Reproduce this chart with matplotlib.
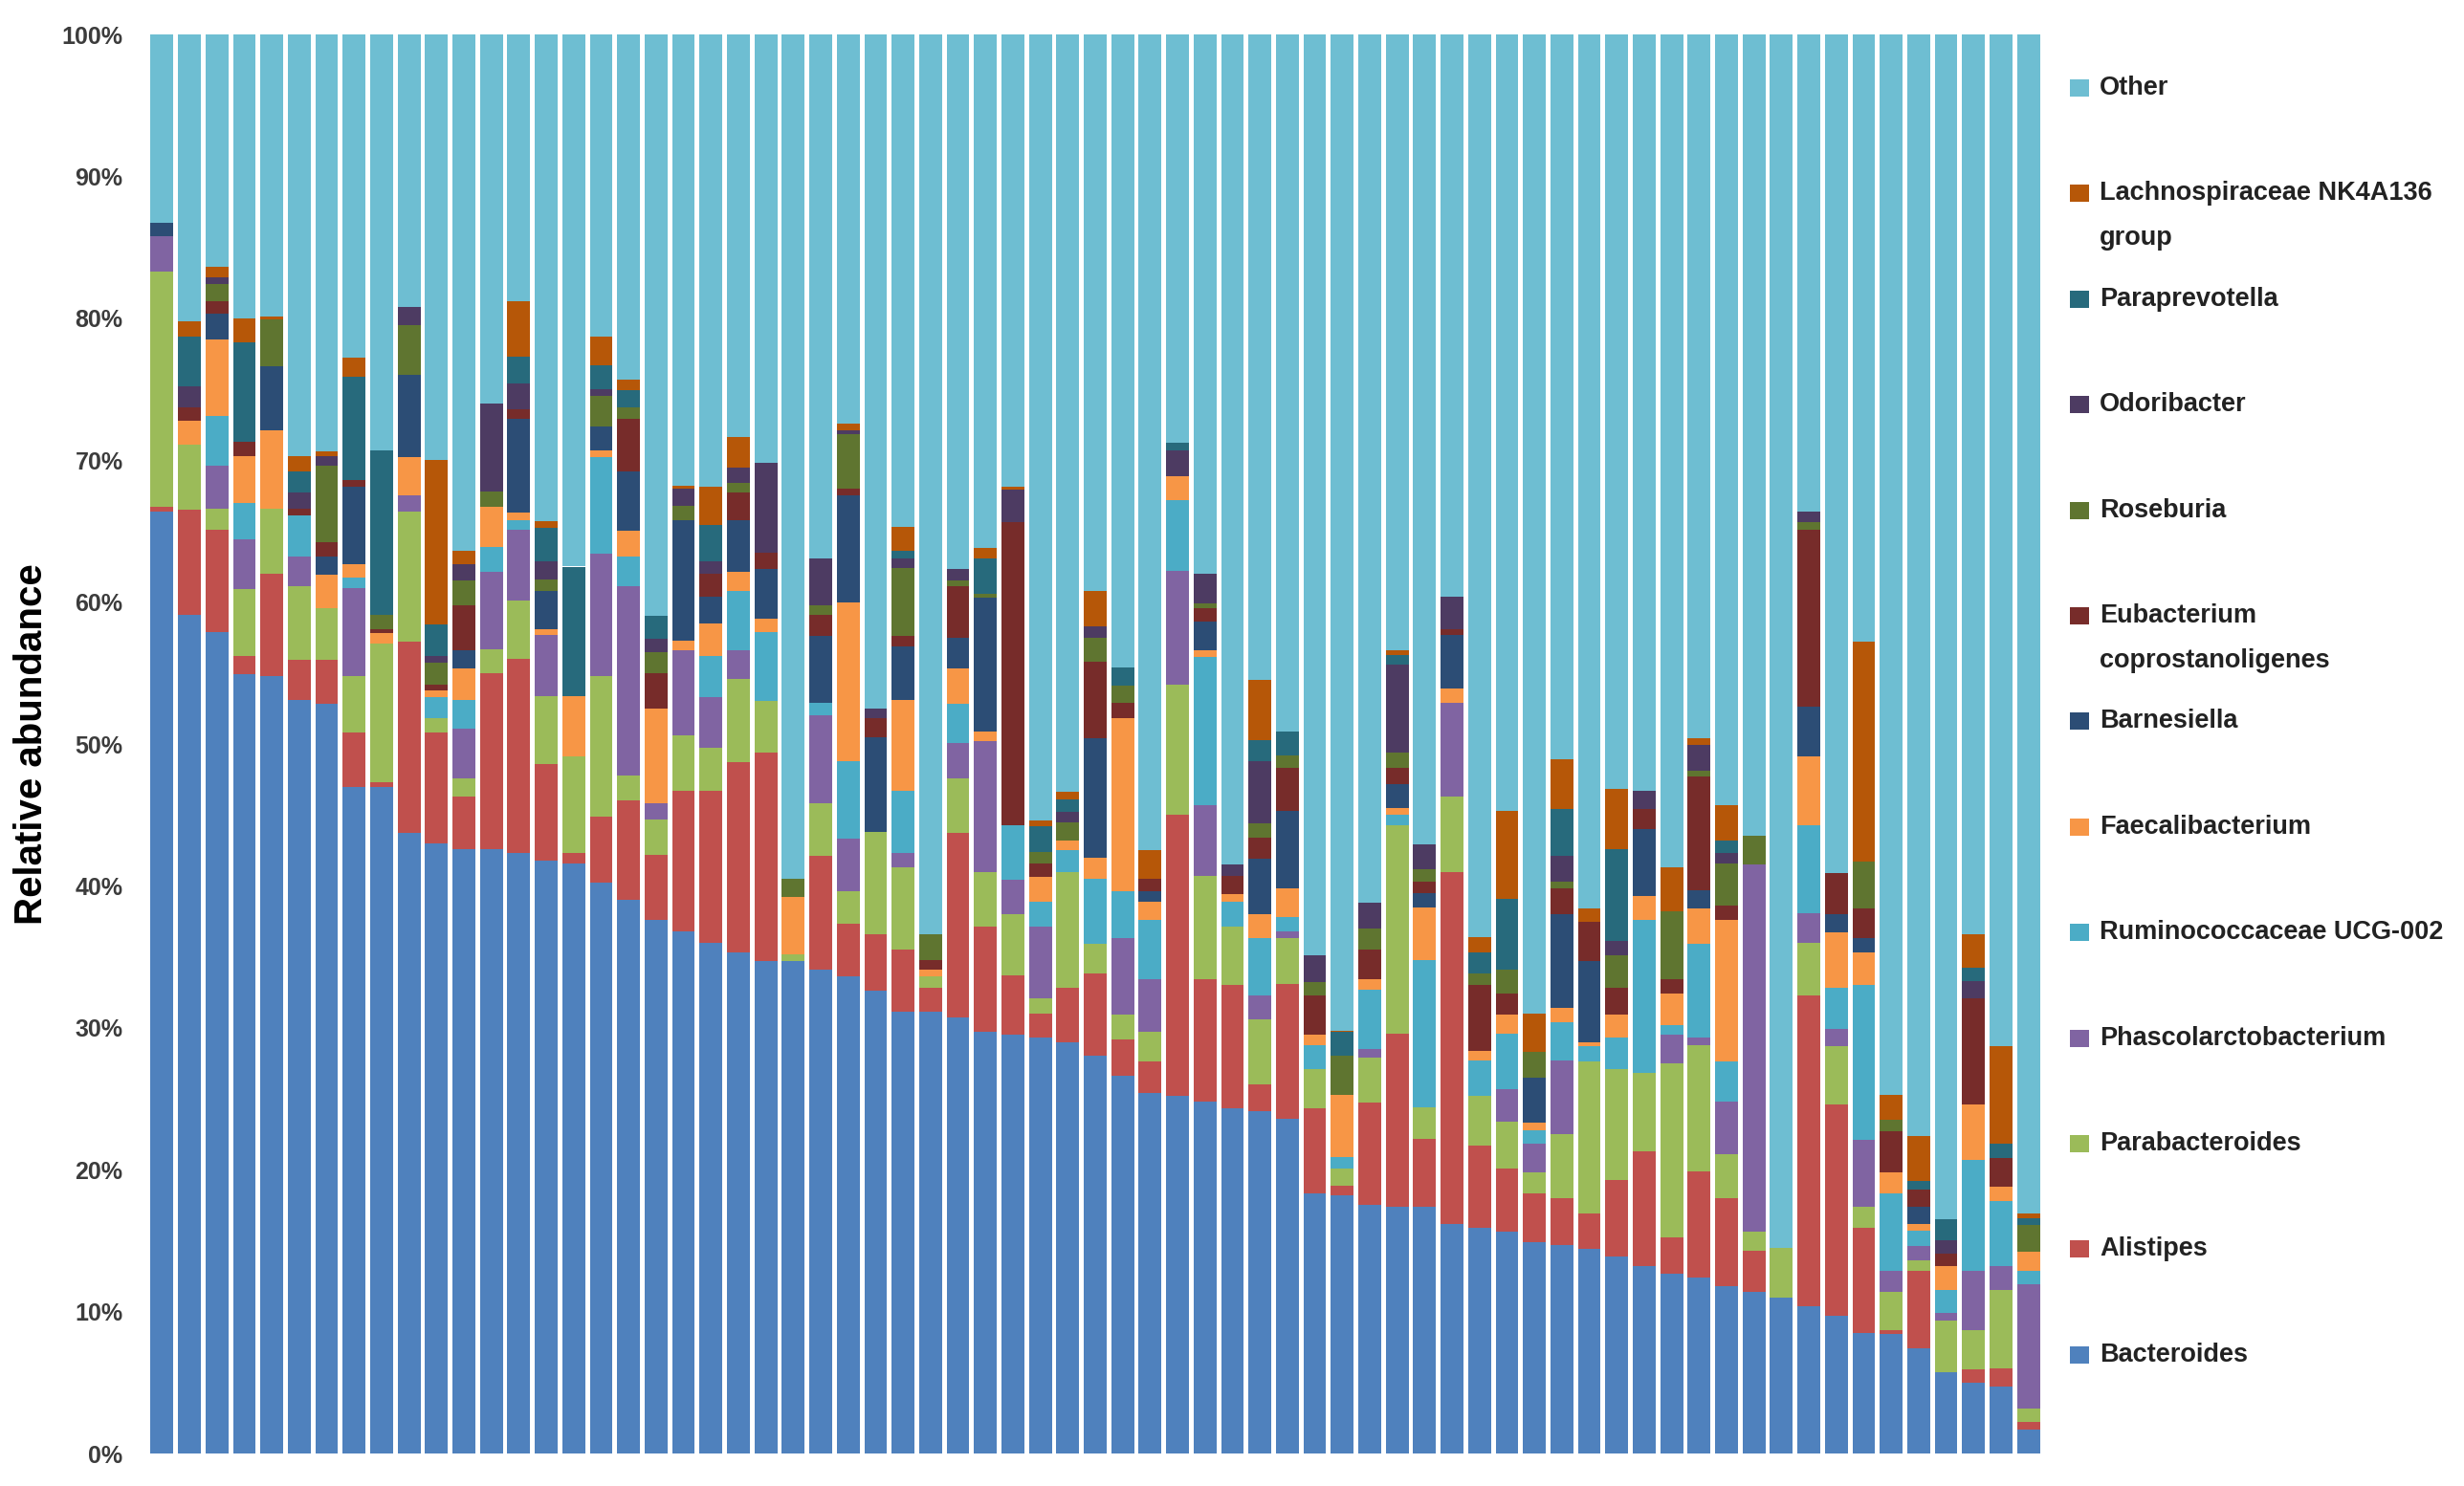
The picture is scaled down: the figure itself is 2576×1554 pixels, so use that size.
import matplotlib
matplotlib.use("Agg")
import matplotlib.pyplot as plt
import numpy as np
from matplotlib.patches import Rectangle

plt.rcParams['font.family'] = ['Liberation Sans', 'DejaVu Sans']

# relative abundance (%) per sample, bottom to top of each stack
bacteroides = [66.4, 59.1, 57.9, 54.9, 54.8, 53.1, 52.8, 47.0, 47.0, 43.7,
               43.0, 42.6, 42.6, 42.3, 41.8, 41.6, 40.2, 39.0, 37.6, 36.8,
               36.0, 35.3, 34.7, 34.7, 34.1, 33.6, 32.6, 31.1, 31.1, 30.7,
               29.7, 29.5, 29.3, 29.0, 28.0, 26.6, 25.4, 25.2, 24.8, 24.3,
               24.1, 23.6, 18.3, 18.2, 17.5, 17.4, 17.4, 16.2, 15.9, 15.6,
               14.9, 14.7, 14.4, 13.9, 13.2, 12.7, 12.4, 11.8, 11.4, 11.0,
               10.4, 9.7, 8.5, 8.4, 7.4, 5.7, 5.0, 4.7, 1.7]
alistipes = [0.3, 7.4, 7.2, 1.3, 7.2, 2.8, 3.1, 3.8, 0.3, 13.5,
             7.8, 3.7, 12.4, 13.7, 6.8, 0.7, 4.7, 7.0, 4.6, 9.9,
             10.7, 13.4, 14.7, 0, 8.0, 3.7, 4.0, 4.4, 1.7, 13.0,
             7.4, 4.2, 1.7, 3.8, 5.8, 2.6, 2.2, 19.8, 8.6, 8.7,
             1.9, 9.5, 6.0, 0.7, 7.2, 12.2, 4.8, 24.8, 5.8, 4.5,
             3.4, 3.3, 2.5, 5.4, 8.1, 2.5, 7.5, 6.2, 2.9, 0,
             21.9, 14.9, 7.4, 0.3, 5.5, 0, 0.9, 1.3, 0.5]
parabacteroides = [16.6, 4.6, 1.5, 4.7, 4.6, 5.2, 3.7, 4.0, 9.8, 9.2,
                   1.0, 1.3, 1.7, 4.1, 4.8, 6.8, 9.9, 1.8, 2.5, 3.9,
                   3.0, 5.9, 3.6, 0.5, 3.7, 2.3, 7.2, 5.8, 0.8, 3.9,
                   3.9, 4.3, 1.1, 8.2, 2.1, 1.7, 2.1, 9.2, 7.3, 4.1,
                   4.6, 3.2, 2.8, 1.2, 3.2, 14.7, 2.2, 5.3, 3.5, 3.3,
                   1.5, 4.5, 10.7, 7.8, 5.5, 12.3, 8.9, 3.1, 1.3, 3.5,
                   3.7, 4.1, 1.5, 2.7, 0.7, 3.7, 2.8, 5.5, 1.0]
phascolarctobacterium = [2.5, 0, 3.0, 3.5, 0, 2.1, 0, 6.2, 0, 1.1,
                         0, 3.5, 5.4, 5.0, 4.3, 0, 8.6, 13.3, 1.1, 6.0,
                         3.6, 2.0, 0, 0, 6.2, 3.7, 0, 1.0, 0, 2.5,
                         9.2, 2.4, 5.0, 0, 0, 5.4, 3.7, 8.0, 5.0, 0,
                         1.7, 0.5, 0, 0, 0.6, 0, 0, 6.6, 0, 2.3,
                         2.0, 5.2, 0, 0, 0, 2.0, 0.5, 3.7, 25.9, 0,
                         2.1, 1.2, 4.7, 1.5, 1.0, 0.5, 4.2, 1.7, 8.7]
ruminococcaceae = [0, 0, 3.5, 2.6, 0, 2.9, 0, 0.7, 0, 0,
                   1.5, 2.0, 1.8, 0.7, 0, 0, 6.8, 2.1, 0, 0,
                   2.9, 4.2, 4.9, 0, 0.9, 5.5, 0, 4.4, 0, 2.7,
                   0, 3.9, 1.8, 1.5, 4.6, 3.3, 4.2, 5.0, 10.4, 1.8,
                   4.0, 1.0, 1.7, 0.8, 4.2, 0.7, 10.4, 0, 2.5, 3.9,
                   1.0, 2.7, 1.1, 2.2, 10.8, 0.7, 6.6, 2.8, 0, 0,
                   6.2, 2.9, 10.9, 5.4, 1.1, 1.6, 7.8, 4.6, 1.0]
faecalibacterium = [0, 1.7, 5.4, 3.3, 5.5, 0, 2.3, 1.0, 0.7, 2.7,
                    0.5, 2.2, 2.8, 0.5, 0.4, 4.3, 0.5, 1.8, 6.7, 0.7,
                    2.3, 1.3, 0.9, 4.0, 0, 11.2, 0, 6.4, 0.5, 2.5,
                    0.7, 0, 1.7, 0.7, 1.5, 12.2, 1.3, 1.7, 0.5, 0.5,
                    1.7, 2.0, 0.7, 4.4, 0.7, 0.5, 3.7, 1.0, 0.7, 1.3,
                    0.5, 1.0, 0.3, 1.6, 1.7, 2.2, 2.5, 10.0, 0, 0,
                    4.8, 3.9, 2.3, 1.5, 0.5, 1.7, 3.9, 1.0, 1.3]
barnesiella = [0.9, 0, 1.8, 0, 4.5, 0, 1.3, 5.4, 0, 5.8,
               0, 1.3, 0, 6.6, 2.7, 0, 1.7, 4.2, 0, 8.5,
               1.9, 3.7, 3.5, 0, 4.7, 7.5, 6.7, 3.8, 0, 2.2,
               9.4, 0, 0, 0, 8.4, 0, 0.7, 0, 2.0, 0,
               3.9, 5.5, 0, 0, 0, 1.7, 1.0, 3.8, 0, 0,
               3.2, 6.6, 5.7, 0, 4.7, 0, 1.3, 0, 0, 0,
               3.5, 1.3, 1.0, 0, 1.2, 0, 0, 0, 0]
eubacterium = [0, 0.9, 0.9, 1.0, 0, 0.5, 1.0, 0.5, 0.3, 0,
               0.4, 3.2, 0, 0.7, 0, 0, 0, 3.7, 2.5, 0,
               1.6, 1.9, 1.2, 0, 1.5, 0.5, 1.3, 0.7, 0.7, 3.6,
               0, 21.3, 1.0, 0, 5.4, 1.1, 0.9, 0, 1.0, 1.3,
               1.5, 3.0, 2.8, 0, 2.1, 1.1, 0.8, 0.4, 4.6, 1.5,
               0, 1.8, 2.8, 1.9, 1.4, 1.0, 8.0, 1.0, 0, 0,
               12.5, 2.9, 2.1, 2.9, 1.2, 0.9, 7.5, 2.0, 0]
roseburia = [0, 0, 1.2, 0, 3.3, 0, 5.4, 0, 1.0, 3.5,
             1.5, 1.7, 1.1, 0, 0.8, 0, 2.1, 0.8, 1.5, 1.0,
             0, 0.7, 0, 1.3, 0.7, 3.8, 0, 4.8, 1.8, 0.4,
             0.3, 0, 0.8, 1.3, 1.7, 1.2, 0, 0, 0.3, 0,
             1.0, 0.9, 0.9, 2.7, 1.5, 1.1, 0.9, 0, 0.8, 1.7,
             1.8, 0.5, 0, 2.3, 0, 4.8, 0.4, 3.0, 2.0, 0,
             0.5, 0, 3.3, 0.8, 0, 0, 0, 0, 1.9]
odoribacter = [0, 1.5, 0.5, 0, 0, 1.1, 0.7, 0, 0, 1.3,
               0.5, 1.2, 6.2, 1.8, 1.3, 0, 0.5, 0, 0.9, 1.2,
               0.9, 1.1, 6.3, 0, 3.3, 0.3, 0.7, 0.7, 0, 0.8,
               0, 2.3, 0, 0.7, 0.8, 0, 0, 1.8, 2.1, 0.8,
               4.4, 0, 1.9, 0, 1.8, 6.2, 1.7, 2.3, 0, 0,
               0, 1.8, 0, 1.0, 1.3, 0, 1.8, 0.7, 0, 0,
               0.8, 0, 0, 0, 0, 0.9, 1.2, 0, 0]
paraprevotella = [0, 3.5, 0, 7.0, 0, 1.5, 0, 7.3, 11.6, 0,
                  2.2, 0, 0, 1.9, 2.3, 9.1, 1.7, 1.2, 1.6, 0,
                  2.5, 0, 0, 0, 0, 0, 0, 0.5, 0, 0,
                  2.5, 0, 1.8, 0.9, 0, 1.3, 0, 0.5, 0, 0,
                  1.5, 1.7, 0, 1.7, 0, 0.7, 0, 0, 1.5, 5.0,
                  0, 3.3, 0, 6.5, 0, 0, 0, 0.9, 0, 0,
                  0, 0, 0, 0, 0.6, 1.5, 0.9, 1.0, 0.5]
lachnospiraceae = [0, 1.1, 0.7, 1.7, 0.2, 1.1, 0.3, 1.3, 0, 0,
                   11.6, 0.9, 0, 3.9, 0.5, 0, 2.0, 0.8, 0, 0.2,
                   2.7, 2.1, 0, 0, 0, 0.5, 0, 1.7, 0, 0,
                   0.7, 0.2, 0.4, 0.5, 2.5, 0, 2.0, 0, 0, 0,
                   4.2, 0, 0, 0.1, 0, 0.3, 0, 0, 1.1, 6.2,
                   2.7, 3.5, 0.9, 4.2, 0, 3.1, 0.5, 2.5, 0, 0,
                   0, 0, 15.5, 1.8, 3.2, 0, 2.4, 6.9, 0.3]
other = [13.3, 20.2, 16.4, 20.0, 19.9, 29.7, 29.4, 22.8, 29.3, 19.2,
         30.0, 36.4, 26.0, 18.8, 34.3, 37.5, 21.3, 24.3, 41.0, 31.8,
         31.9, 28.4, 30.2, 59.5, 36.9, 27.4, 47.5, 34.7, 63.4, 37.7,
         36.2, 31.9, 55.4, 53.4, 39.2, 44.6, 57.5, 28.8, 38.0, 58.5,
         45.5, 49.1, 64.9, 70.2, 61.2, 43.4, 57.1, 39.6, 63.6, 54.7,
         69.0, 51.1, 61.6, 53.2, 53.3, 58.7, 49.6, 54.3, 56.5, 85.5,
         33.6, 59.1, 42.8, 74.7, 77.6, 83.5, 63.4, 71.3, 83.1]

taxa = ['Bacteroides', 'Alistipes', 'Parabacteroides', 'Phascolarctobacterium',
        'Ruminococcaceae UCG-002', 'Faecalibacterium', 'Barnesiella',
        'Eubacterium coprostanoligenes', 'Roseburia', 'Odoribacter',
        'Paraprevotella', 'Lachnospiraceae NK4A136 group', 'Other']
series = [bacteroides, alistipes, parabacteroides, phascolarctobacterium,
          ruminococcaceae, faecalibacterium, barnesiella, eubacterium,
          roseburia, odoribacter, paraprevotella, lachnospiraceae, other]
colors = ['#4F81BD', '#C0504D', '#9BBB59', '#8064A2', '#4BACC6', '#F79646',
          '#2C4D75', '#772C2A', '#5F7530', '#4D3B62', '#276A7C', '#B65708',
          '#6EBED2']
legend_lines = {'Lachnospiraceae NK4A136 group': ['Lachnospiraceae NK4A136', 'group'],
                'Eubacterium coprostanoligenes': ['Eubacterium', 'coprostanoligenes']}

data = np.array(series, dtype=float)
data = data / data.sum(axis=0) * 100  # 100% stacked, like the original
x = np.arange(data.shape[1])

W, H = 2576, 1554
fig = plt.figure(figsize=(W / 100, H / 100), dpi=100)
ax = fig.add_axes([155 / W, 1 - 1520 / H, 1980 / W, (1520 - 36) / H])

bottom = np.zeros(data.shape[1])
for vals, name, col in zip(data, taxa, colors):
    ax.bar(x, vals, bottom=bottom, width=0.83, color=col, linewidth=0, label=name)
    bottom += vals

ax.set_xlim(-0.5, len(x) - 0.5)
ax.set_ylim(0, 100)
ax.set_yticks(np.arange(0, 101, 10))
ax.set_yticklabels([f'{v}%' for v in range(0, 101, 10)], fontsize=18,
                   fontweight='bold', color='#3c3c3c')
ax.set_xticks([])
ax.tick_params(axis='y', length=0, pad=19)
for s in ax.spines.values():
    s.set_visible(False)

fig.text(33 / W, 1 - 778 / H, 'Relative abundance', rotation=90, ha='center',
         va='center', fontsize=29, fontweight='bold',
         family=['Liberation Sans Narrow', 'Liberation Sans'])

# legend, top entry = Other
y0, step = 92, 110.4
for i, (name, col) in enumerate(zip(taxa[::-1], colors[::-1])):
    yc = y0 + i * step
    fig.patches.append(Rectangle((2164 / W, 1 - (yc + 9) / H), 20 / W, 18 / H,
                                 transform=fig.transFigure, color=col, lw=0))
    lines = legend_lines.get(name, [name])
    for j, line in enumerate(lines):
        fig.text(2195 / W, 1 - (yc + j * 47) / H, line, ha='left', va='center',
                 fontsize=19.5, fontweight='bold', color='#222222')

fig.savefig('out.png', dpi=100, facecolor='white')
